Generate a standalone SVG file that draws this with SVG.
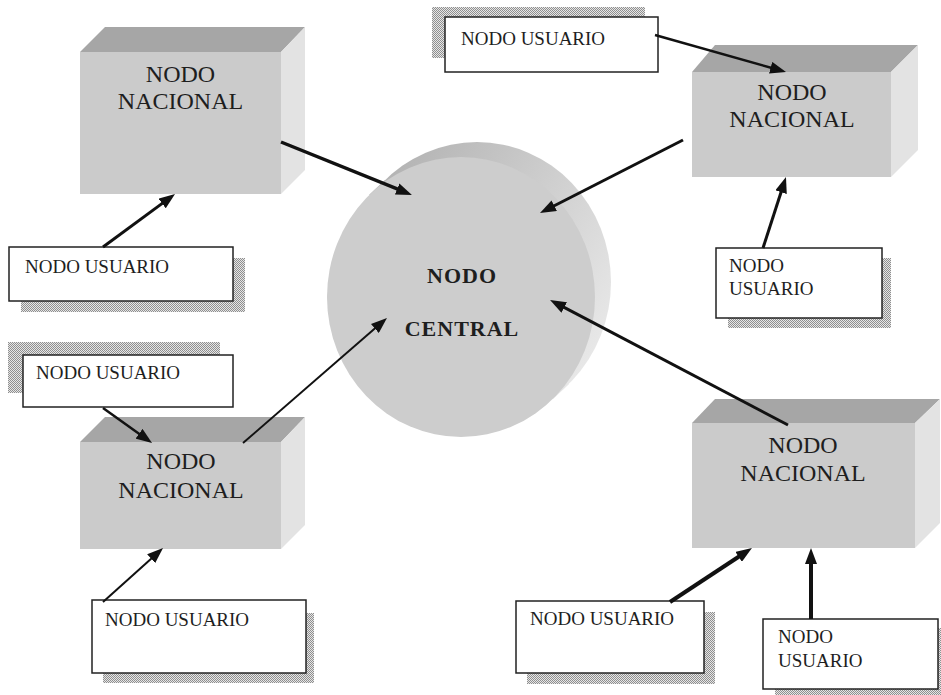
<svg xmlns="http://www.w3.org/2000/svg" width="941" height="695" viewBox="0 0 941 695">
<style>
.front{fill:#cbcbcb}
.top{fill:#a6a6a6}
.side{fill:#e3e3e3}
.ntxt{font-family:"Liberation Serif","Times New Roman",serif;font-size:24px;fill:#1e1e1e;text-anchor:middle}
.utxt{font-family:"Liberation Serif","Times New Roman",serif;font-size:19px;fill:#1e1e1e}
.ctxt{font-family:"Liberation Serif","Times New Roman",serif;font-size:22px;font-weight:bold;fill:#1e1e1e;text-anchor:middle;letter-spacing:1px}
.ubox{fill:#ffffff;stroke:#222;stroke-width:1.5}
.shadow{fill:url(#dots)}
.conn line{stroke:#111;fill:none;marker-end:url(#arr)}
</style>
<defs>
<pattern id="dots" width="2" height="2" patternUnits="userSpaceOnUse">
<rect width="2" height="2" fill="#e6e6e6"/>
<rect width="1" height="1" fill="#8f8f8f"/>
<rect x="1" y="1" width="1" height="1" fill="#8f8f8f"/>
</pattern>
<linearGradient id="cylg" gradientUnits="userSpaceOnUse" x1="380" y1="180" x2="612" y2="330">
<stop offset="0" stop-color="#b3b3b3"/>
<stop offset="1" stop-color="#e8e8e8"/>
</linearGradient>
<marker id="arr" markerUnits="userSpaceOnUse" markerWidth="16" markerHeight="12" refX="6" refY="6" orient="auto">
<path d="M0,0 L16,6 L0,12 z" fill="#111"/>
</marker>
</defs>
<rect width="941" height="695" fill="#ffffff"/>

<g id="central">
<polygon points="369.2,194.8 385.2,179.8 568.8,384.2 552.8,399.2" fill="url(#cylg)"/>
<ellipse cx="477" cy="282" rx="134" ry="140" fill="url(#cylg)"/>
<ellipse cx="461" cy="297" rx="134" ry="140" fill="#cdcdcd"/>
<text class="ctxt" x="462" y="283">NODO</text>
<text class="ctxt" x="462" y="336">CENTRAL</text>
</g>

<g id="nacional1">
<rect class="front" x="80" y="52" width="201" height="142"/>
<polygon class="top" points="80,52 105,27 305,27 281,52"/>
<polygon class="side" points="281,52 305,27 305,170 281,194"/>
<text class="ntxt" x="180.5" y="82">NODO</text>
<text class="ntxt" x="180.5" y="109">NACIONAL</text>
</g>

<g id="nacional2">
<rect class="front" x="692" y="72" width="199" height="105"/>
<polygon class="top" points="692,72 715,45 918,45 891,72"/>
<polygon class="side" points="891,72 918,45 918,150 891,177"/>
<text class="ntxt" x="792" y="100">NODO</text>
<text class="ntxt" x="792" y="127">NACIONAL</text>
</g>

<g id="nacional3">
<rect class="front" x="80" y="442" width="201" height="107"/>
<polygon class="top" points="80,442 105,417 305,417 281,442"/>
<polygon class="side" points="281,442 305,417 305,525 281,549"/>
<text class="ntxt" x="181" y="469">NODO</text>
<text class="ntxt" x="181" y="498">NACIONAL</text>
</g>

<g id="nacional4">
<rect class="front" x="692" y="423" width="223" height="125"/>
<polygon class="top" points="692,423 715,399 940,399 915,423"/>
<polygon class="side" points="915,423 940,399 940,523 915,548"/>
<text class="ntxt" x="803" y="453">NODO</text>
<text class="ntxt" x="803" y="481">NACIONAL</text>
</g>

<g id="usuario1">
<rect class="shadow" x="21" y="258" width="224" height="54"/>
<rect class="ubox" x="9" y="247" width="224" height="54"/>
<text class="utxt" x="25" y="273">NODO USUARIO</text>
</g>

<g id="usuario2">
<rect class="shadow" x="432" y="7" width="213" height="51"/>
<rect class="ubox" x="445" y="17" width="213" height="55"/>
<text class="utxt" x="461" y="45">NODO USUARIO</text>
</g>

<g id="usuario3">
<rect class="shadow" x="728" y="258" width="163" height="70"/>
<rect class="ubox" x="716" y="248" width="166" height="70"/>
<text class="utxt" x="729" y="272">NODO</text>
<text class="utxt" x="729" y="295">USUARIO</text>
</g>

<g id="usuario4">
<rect class="shadow" x="8" y="342" width="212" height="51"/>
<rect class="ubox" x="23" y="355" width="210" height="52"/>
<text class="utxt" x="36" y="379">NODO USUARIO</text>
</g>

<g id="usuario5">
<rect class="shadow" x="103" y="613" width="211" height="70"/>
<rect class="ubox" x="92" y="600" width="214" height="73"/>
<text class="utxt" x="105" y="626">NODO USUARIO</text>
</g>

<g id="usuario6">
<rect class="shadow" x="527" y="612" width="188" height="72"/>
<rect class="ubox" x="516" y="601" width="188" height="72"/>
<text class="utxt" x="530" y="625">NODO USUARIO</text>
</g>

<g id="usuario7">
<rect class="shadow" x="775" y="628" width="166" height="67"/>
<rect class="ubox" x="763" y="619" width="175" height="70"/>
<text class="utxt" x="778" y="643">NODO</text>
<text class="utxt" x="778" y="667">USUARIO</text>
</g>

<g id="connectors" class="conn">
<line x1="281" y1="142" x2="402.7" y2="191.2" stroke-width="3.5"/>
<line x1="103" y1="247" x2="167" y2="199.9" stroke-width="3"/>
<line x1="655" y1="35" x2="776.4" y2="69.3" stroke-width="2.5"/>
<line x1="683" y1="140" x2="548.9" y2="208.5" stroke-width="3"/>
<line x1="763" y1="248" x2="782.9" y2="186.5" stroke-width="3"/>
<line x1="243" y1="443" x2="379.4" y2="324.6" stroke-width="2"/>
<line x1="103" y1="408" x2="143.9" y2="437.2" stroke-width="2.5"/>
<line x1="103" y1="602" x2="155.6" y2="554.7" stroke-width="2"/>
<line x1="788" y1="425" x2="558.9" y2="304.7" stroke-width="3"/>
<line x1="670" y1="602" x2="743.6" y2="553.5" stroke-width="4"/>
<line x1="811" y1="619" x2="811" y2="558" stroke-width="4"/>
</g>
</svg>
